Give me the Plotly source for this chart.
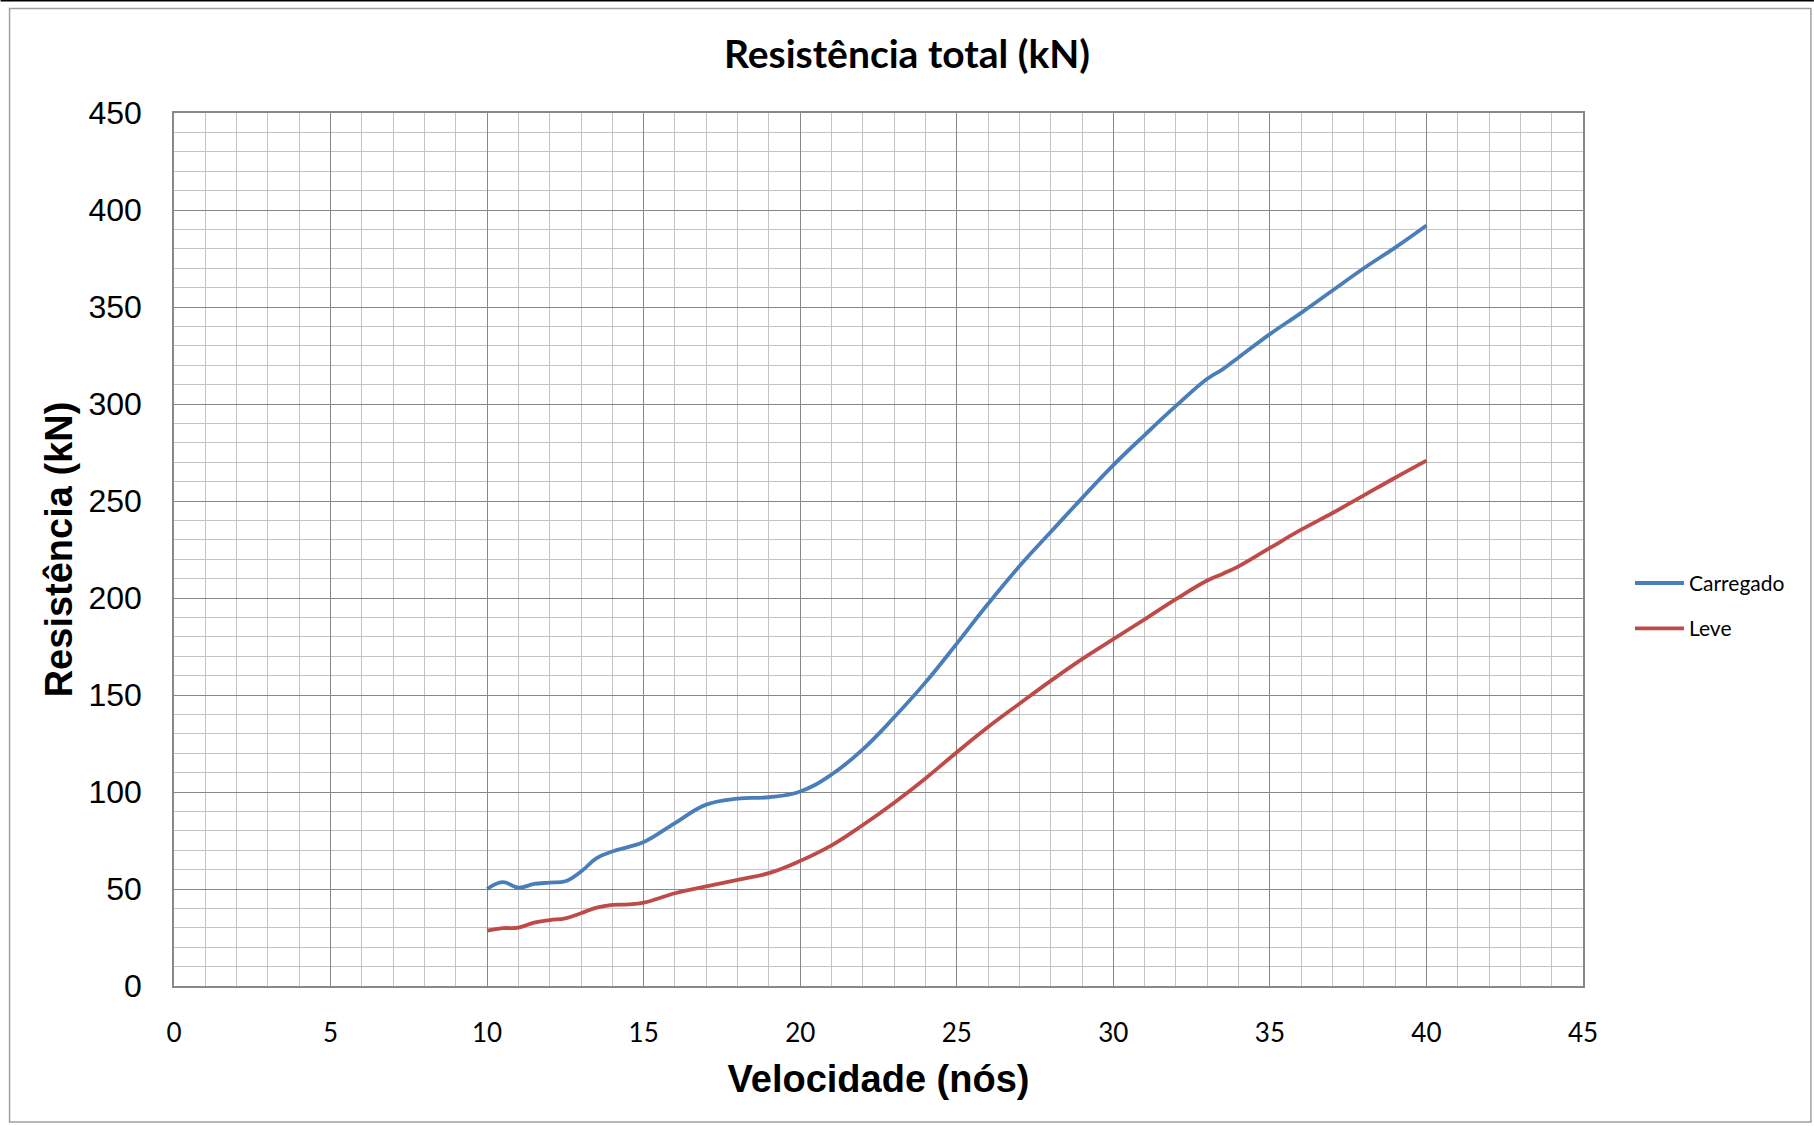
import plotly.graph_objects as go

# ---- data ----
speed_carregado = [10, 10.5, 11, 11.5, 12, 12.5, 13, 13.5, 14, 14.5, 15, 16, 17, 18, 19, 20,
                   21, 22, 23, 24, 25, 26, 27, 28, 29, 30, 31, 32, 33, 33.5, 34, 35, 36, 37,
                   38, 39, 40]
res_carregado = [50, 53.5, 50.7, 52.6, 53.3, 54, 59, 65.9, 69.3, 71.6, 74.2, 84, 93.5, 96.6,
                 97.3, 100.3, 109, 122, 138.5, 156.5, 176.5, 197, 216.4, 234, 251.5, 268.5, 284,
                 299, 313, 318, 324, 336, 347, 358.5, 370, 380.6, 392]

speed_leve = [10, 10.5, 11, 11.5, 12, 12.5, 13, 13.5, 14, 14.5, 15, 16, 17, 18, 19, 20,
              21, 22, 23, 24, 25, 26, 27, 28, 29, 30, 31, 32, 33, 33.5, 34, 35, 36, 37,
              38, 39, 40]
res_leve = [28.5, 29.8, 30.1, 32.7, 34, 34.9, 37.5, 40.4, 41.8, 42.1, 43, 47.8, 51.3, 54.7,
            58.2, 64.5, 72.5, 83, 94.5, 107, 120.5, 133.5, 145.5, 157.3, 168.5, 178.8, 189,
            199.4, 209, 212.5, 216.3, 225.8, 235.2, 243.8, 252.9, 262, 270.8]

series_names = ["Carregado", "Leve"]
series_colors = ["#4A7EBB", "#BE4B48"]

chart_title = "Resistência total (kN)"
x_title = "Velocidade (nós)"
y_title = "Resistência (kN)"

W, H = 1814, 1126
L, R, T, B = 173.5, 1583, 113.4, 986  # plot area in pixels

fig = go.Figure()
for xs, ys, name, col, grp in [
    (speed_carregado, res_carregado, series_names[0], series_colors[0], "a"),
    (speed_leve, res_leve, series_names[1], series_colors[1], "b"),
]:
    fig.add_trace(go.Scatter(
        x=xs, y=ys, name=name, mode="lines", legendgroup=grp,
        line=dict(color=col, width=3.8, shape="spline", smoothing=1.2),
    ))

def px_to_paper_x(px):
    return (px - L) / (R - L)

def px_to_paper_y(py):
    return (B - py) / (B - T)

fig.update_layout(
    width=W, height=H,
    margin=dict(l=L, r=W - R, t=T, b=H - B, autoexpand=False),
    paper_bgcolor="white", plot_bgcolor="white",
    title=dict(text=f"<b>{chart_title}</b>", x=0.5, xref="container", xanchor="center",
               y=1 - 54 / H, yref="container", yanchor="middle",
               font=dict(family="Lato", size=39, color="black")),
    showlegend=True,
    legend=dict(x=px_to_paper_x(1630), xanchor="left", y=px_to_paper_y(606), yanchor="middle",
                font=dict(family="Lato", size=21, color="black"),
                itemwidth=49, tracegroupgap=15, bgcolor="rgba(0,0,0,0)"),
    xaxis=dict(
        range=[0, 45], dtick=5, tick0=0, showgrid=True, gridcolor="#888888", gridwidth=1,
        minor=dict(dtick=1, showgrid=True, gridcolor="#c4c4c4", gridwidth=1),
        showline=True, linecolor="#888888", linewidth=1.5, mirror=True,
        ticks="", ticklabelstandoff=23, zeroline=False,
        tickfont=dict(family="Lato", size=26, color="black"),
        title=dict(text=f"<b>{x_title}</b>", standoff=18,
                   font=dict(family="Liberation Sans", size=38, color="black")),
    ),
    yaxis=dict(
        range=[0, 450], dtick=50, tick0=0, showgrid=True, gridcolor="#888888", gridwidth=1,
        minor=dict(dtick=10, showgrid=True, gridcolor="#c4c4c4", gridwidth=1),
        showline=True, linecolor="#888888", linewidth=1.5, mirror=True,
        ticks="", ticklabelstandoff=24, zeroline=False,
        tickfont=dict(family="Liberation Sans", size=32, color="black"),
        title=dict(text=f"<b>{y_title}</b>", standoff=4,
                   font=dict(family="Liberation Sans", size=38, color="black")),
    ),
    shapes=[
        dict(type="rect", xref="paper", yref="paper",
             x0=px_to_paper_x(9), x1=px_to_paper_x(1811),
             y0=px_to_paper_y(1122), y1=px_to_paper_y(9),
             line=dict(color="#a0a0a0", width=1.5), layer="below"),
        dict(type="line", xref="paper", yref="paper",
             x0=px_to_paper_x(0), x1=px_to_paper_x(W),
             y0=px_to_paper_y(1), y1=px_to_paper_y(1),
             line=dict(color="black", width=2)),
    ],
)

fig.write_html("out.html")
